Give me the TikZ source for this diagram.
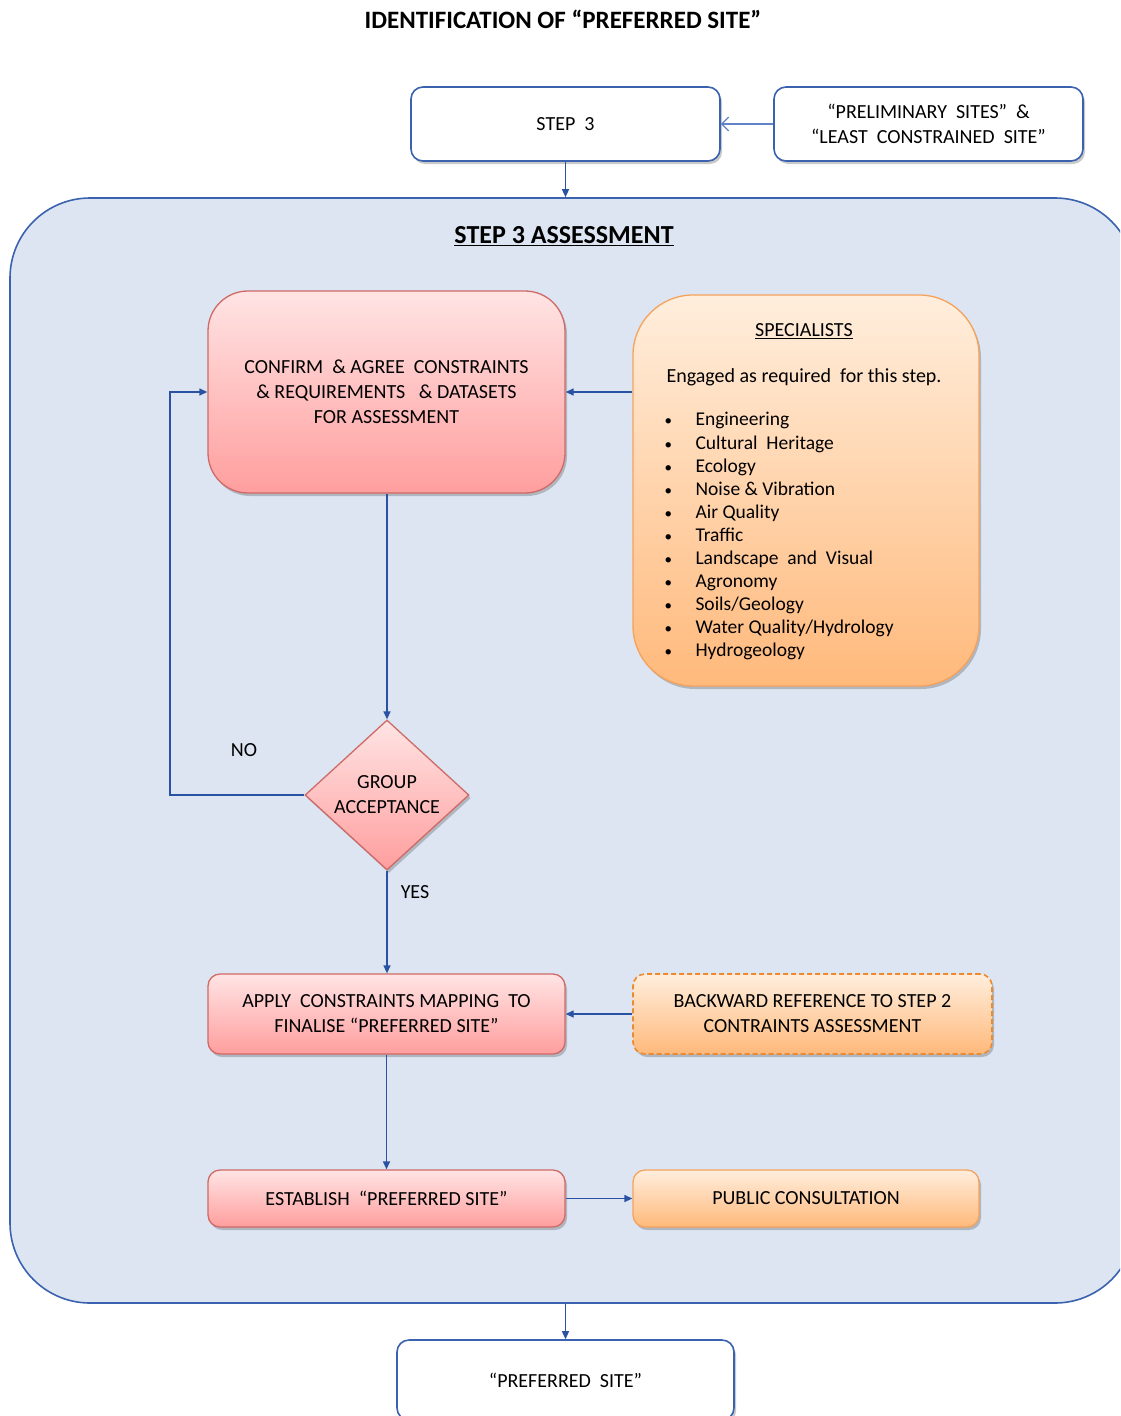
\documentclass[tikz,border=0pt]{standalone}
\usepackage{fontspec}
\setmainfont{Carlito}
\usetikzlibrary{arrows.meta,shapes.geometric,shadows,positioning}

\definecolor{frameblue}{HTML}{3A62AE}
\definecolor{lineblue}{HTML}{2A52A2}
\definecolor{thinblue}{HTML}{5F82C8}
\definecolor{paleblue}{HTML}{DCE5F1}
\definecolor{redline}{HTML}{CF6A67}
\definecolor{redtop}{HTML}{FFE4E4}
\definecolor{redbot}{HTML}{FF9E9E}
\definecolor{orgline}{HTML}{F5A25C}
\definecolor{orgdash}{HTML}{EE8A2E}
\definecolor{orgtop}{HTML}{FFEEDD}
\definecolor{orgbot}{HTML}{FFB97B}

\newcommand{\specitem}{\makebox[31pt][l]{\fontsize{15}{15}\selectfont\textbullet}}

\tikzset{
  boxfont/.style={font=\fontsize{20}{25}\selectfont},
  softshadow/.style={drop shadow={shadow xshift=2pt,shadow yshift=-3pt,opacity=0.3,fill=black!70}},
  whitebox/.style={draw=frameblue,line width=1.6pt,fill=white,rounded corners=12pt,
    align=center,boxfont,softshadow},
  redbox/.style={draw=redline,line width=1.3pt,top color=redtop,bottom color=redbot,
    rounded corners=12pt,align=center,boxfont,softshadow},
  orangebox/.style={draw=orgline,line width=1.3pt,top color=orgtop,bottom color=orgbot,
    rounded corners=12pt,align=center,boxfont,softshadow},
  flow/.style={draw=lineblue,line width=1.3pt,-{Triangle[length=8pt,width=7pt]}},
}

\begin{document}
\begin{tikzpicture}[x=1pt,y=-1pt]
\useasboundingbox (0,0) rectangle (1120,1416);
\clip (0,0) rectangle (1120,1416);

\node[font=\fontsize{25}{28}\selectfont\bfseries] (title) at (563,19) {IDENTIFICATION OF “PREFERRED SITE”};

% top row
\node[whitebox,minimum width=309pt,minimum height=74pt] (step3) at (565.5,124) {STEP \ 3};
\node[whitebox,minimum width=309pt,minimum height=74pt] (prelim) at (928.5,124)
  {“PRELIMINARY \ SITES” \ \&\\“LEAST \ CONSTRAINED \ SITE”};

% assessment frame
\node[draw=frameblue,line width=1.6pt,fill=paleblue,rounded corners=80pt,
  minimum width=1125pt,minimum height=1105pt] (assess) at (572.5,750.5) {};
\node[font=\fontsize{26}{30}\selectfont\bfseries] (assesstitle) at (564,236) {\underline{STEP 3 ASSESSMENT}};

\node[redbox,rounded corners=40pt,minimum width=357pt,minimum height=202pt] (confirm) at (386.5,392)
  {CONFIRM \ \& AGREE \ CONSTRAINTS\\\& REQUIREMENTS \ \ \& DATASETS\\FOR ASSESSMENT};
\node[orangebox,rounded corners=60pt,minimum width=346pt,minimum height=391pt] (spec) at (806,490.5) {};
\node[boxfont] (spechead) at (804,331) {\underline{SPECIALISTS}};
\node[boxfont,anchor=west] (specnote) at (663,377) {Engaged as required \ for this step.};
\node[anchor=north west,align=left,font=\fontsize{19.5}{23.1}\selectfont] (speclist) at (661,409)
  {\specitem Engineering\\
   \specitem Cultural \ Heritage\\
   \specitem Ecology\\
   \specitem Noise \& Vibration\\
   \specitem Air Quality\\
   \specitem Traffic\\
   \specitem Landscape \ and \ Visual\\
   \specitem Agronomy\\
   \specitem Soils/Geology\\
   \specitem Water Quality/Hydrology\\
   \specitem Hydrogeology};

\node[diamond,draw=redline,line width=1.3pt,top color=redtop,bottom color=redbot,softshadow,
  inner sep=0pt,minimum width=164pt,minimum height=150pt,aspect=1.09,align=center,boxfont]
  (accept) at (387,795) {GROUP\\ACCEPTANCE};
\coordinate (noturn) at (170,795);
\node[boxfont] (nolabel) at (244,750) {NO};
\node[boxfont] (yeslabel) at (415,892) {YES};

\node[redbox,minimum width=357pt,minimum height=80pt] (apply) at (386.5,1014)
  {APPLY \ CONSTRAINTS MAPPING \ TO\\FINALISE “PREFERRED SITE”};
\node[orangebox,draw=orgdash,line width=1.6pt,dash pattern=on 5pt off 3pt,minimum width=359pt,minimum height=80pt]
  (backref) at (812.5,1014) {BACKWARD REFERENCE TO STEP 2\\CONTRAINTS ASSESSMENT};
\node[redbox,minimum width=357pt,minimum height=57pt] (establish) at (386.5,1198.5)
  {ESTABLISH \ “PREFERRED SITE”};
\node[orangebox,minimum width=346pt,minimum height=57pt] (public) at (806,1198.5) {PUBLIC CONSULTATION};

% result
\node[whitebox,minimum width=337pt,minimum height=80pt] (preferred) at (565.5,1380) {“PREFERRED \ SITE”};

% connectors
\draw[thinblue,line width=1.2pt,-{Straight Barb[length=7pt,width=14pt]}] (prelim) -- (step3);
\draw[flow] (step3.south) -- (step3.south |- assess.north);
\draw[flow] (spec.west |- confirm.east) -- (confirm.east);
\draw[flow] (confirm.south -| accept.north) -- (accept.north);
\draw[flow] (accept.west) -- (noturn) |- (confirm.west);
\draw[flow] (accept.south) -- (accept.south |- apply.north);
\draw[flow] (backref.west |- apply.east) -- (apply.east);
\draw[flow] (apply.south -| establish.north) -- (establish.north);
\draw[flow] (establish) -- (public);
\draw[flow] (assess.south -| preferred.north) -- (preferred.north);
\end{tikzpicture}
\end{document}
